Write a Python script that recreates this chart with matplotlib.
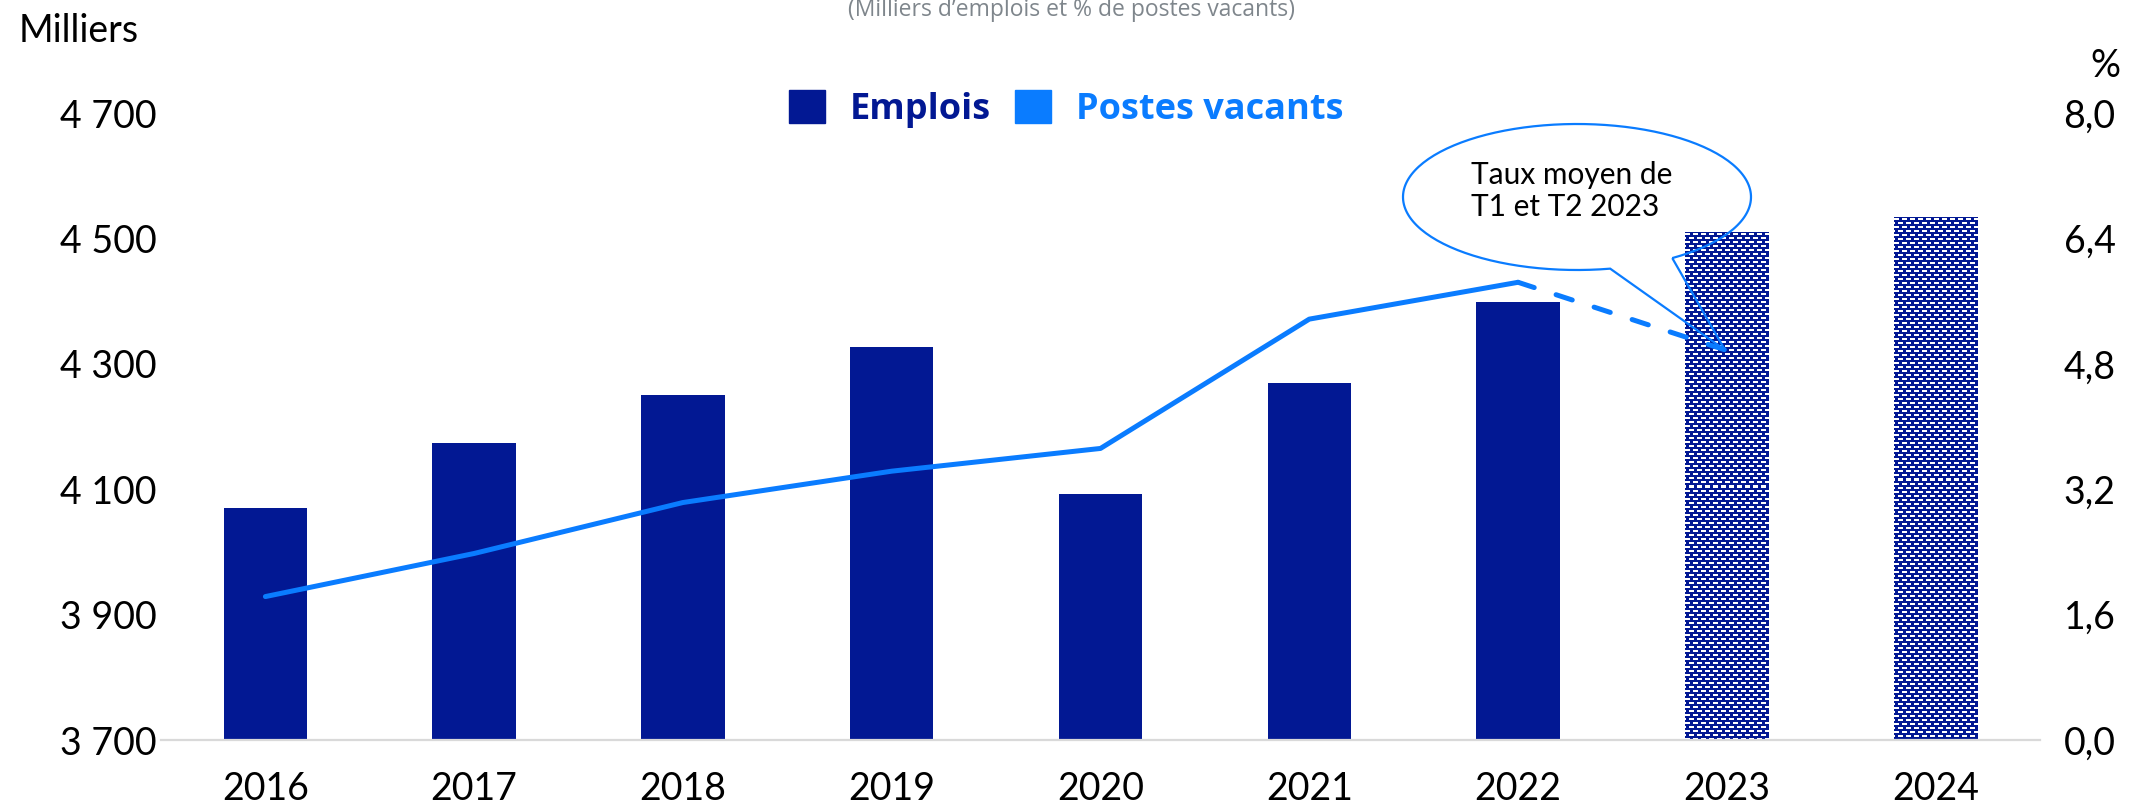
import numpy as np
import matplotlib
matplotlib.use('Agg')
import matplotlib.pyplot as plt
from matplotlib.patches import Patch, PathPatch
from matplotlib.path import Path
from matplotlib.colors import to_rgb

# Data
years = ['2016', '2017', '2018', '2019', '2020', '2021', '2022', '2023', '2024']
emplois = [4070, 4174, 4250, 4326, 4093, 4270, 4398, 4509, 4533]
projected = [False, False, False, False, False, False, False, True, True]
taux = [1.83, 2.38, 3.03, 3.43, 3.72, 5.37, 5.84]
taux_2023 = 4.97
left_ticks = [3700, 3900, 4100, 4300, 4500, 4700]
left_labels = ['3 700', '3 900', '4 100', '4 300', '4 500', '4 700']
right_ticks = [0, 1.6, 3.2, 4.8, 6.4, 8.0]
right_labels = ['0,0', '1,6', '3,2', '4,8', '6,4', '8,0']

navy = '#021893'
blue = '#0a7cff'
plt.rcParams['font.family'] = ['Lato', 'DejaVu Sans']

W, H = 2136, 805
fig = plt.figure(figsize=(W / 100, H / 100), dpi=100)
ax = fig.add_axes([161 / W, 1 - 740 / H, (2040 - 161) / W, (740 - 113) / H])
x = np.arange(len(years))
width = 0.40
ymin, ymax = 3700, 4700
ax.set_xlim(-0.5, 8.5)
ax.set_ylim(ymin, ymax)


def brick_texture(h, w):
    # navy background with staggered small white dashes
    tile = np.zeros((8, 8), bool)
    tile[1:3, 0:5] = True
    tile[5:7, 4:8] = True
    tile[5:7, 0:1] = True
    mask = np.tile(tile, (h // 8 + 1, w // 8 + 1))[:h, :w]
    return np.where(mask[..., None], np.array(to_rgb('white')), np.array(to_rgb(navy)))


# Bars
bars = ax.bar(x, emplois, width, color=navy, linewidth=0, zorder=2)
for xi, v, proj in zip(x, emplois, projected):
    if proj:
        p0 = ax.transData.transform((xi - width / 2, ymin))
        p1 = ax.transData.transform((xi + width / 2, v))
        w_px, h_px = int(round(p1[0] - p0[0])), int(round(p1[1] - p0[1]))
        ax.imshow(brick_texture(h_px, w_px), extent=(xi - width / 2, xi + width / 2, ymin, v),
                  aspect='auto', interpolation='nearest', zorder=2.5)

ax.set_xlim(-0.5, 8.5)
ax.set_ylim(ymin, ymax)
ax.set_yticks(left_ticks, left_labels)
ax.set_xticks(x, years)
ax.tick_params(axis='y', length=0, pad=3, labelsize=27)
ax.tick_params(axis='x', length=0, pad=22, labelsize=27)
for s in ['top', 'right', 'left']:
    ax.spines[s].set_visible(False)
ax.spines['bottom'].set_color('#d9d9d9')
ax.spines['bottom'].set_linewidth(1.6)

# Line on right axis
ax2 = ax.twinx()
ax2.plot(x[:len(taux)], taux, color=blue, lw=3.6, solid_capstyle='round',
         solid_joinstyle='round', zorder=4)
ax2.plot([x[len(taux) - 1], x[len(taux)]], [taux[-1], taux_2023], color=blue, lw=3.6,
         dashes=(3.4, 4.6), dash_capstyle='round', zorder=4)
ax2.set_ylim(0, 8)
ax2.set_yticks(right_ticks, right_labels)
ax2.tick_params(axis='y', length=0, pad=17, labelsize=27)
for s in ax2.spines.values():
    s.set_visible(False)

# Callout bubble (figure pixel layout)
cx, cy, a, b = 1577, 197, 174, 73
t0, t1 = np.deg2rad(-56.8), np.deg2rad(281)
t = np.linspace(t0, t1, 200)
px = cx + a * np.cos(t)
py = cy - b * np.sin(t)
verts = list(zip(px, py)) + [(1725, 350), (px[0], py[0])]
verts = [(vx / W, 1 - vy / H) for vx, vy in verts]
codes = [Path.MOVETO] + [Path.LINETO] * (len(verts) - 1)
fig.add_artist(PathPatch(Path(verts, codes), fill=False, edgecolor=blue, lw=1.6,
                         joinstyle='miter', transform=fig.transFigure, zorder=5))
fig.text(1471 / W, 1 - 191 / H, 'Taux moyen de\nT1 et T2 2023', fontsize=21.5,
         color='black', ha='left', va='center', linespacing=1.15)

# Legend
handles = [Patch(color=navy), Patch(color=blue)]
ax.legend(handles, ['Emplois', 'Postes vacants'], loc='center', ncol=2,
          bbox_to_anchor=((1066 - 161) / (2040 - 161), (740 - 109) / (740 - 113)),
          frameon=False, prop={'family': ['Open Sans', 'DejaVu Sans'], 'weight': 'bold', 'size': 26},
          labelcolor=[navy, blue], handlelength=1.0, handleheight=1.0,
          handletextpad=0.7, columnspacing=0.65)

# Texts
fig.text(19 / W, 1 - 31 / H, 'Milliers', fontsize=27, ha='left', va='center')
fig.text(2105 / W, 1 - 66 / H, '%', fontsize=27, ha='center', va='center')
fig.text(1072 / W, 1 - 16 / H, '(Milliers d\u2019emplois et % de postes vacants)',
         fontsize=16.5, color='#7f868c', ha='center', va='baseline',
         family=['Open Sans', 'DejaVu Sans'])

fig.savefig('out.png', dpi=100)
